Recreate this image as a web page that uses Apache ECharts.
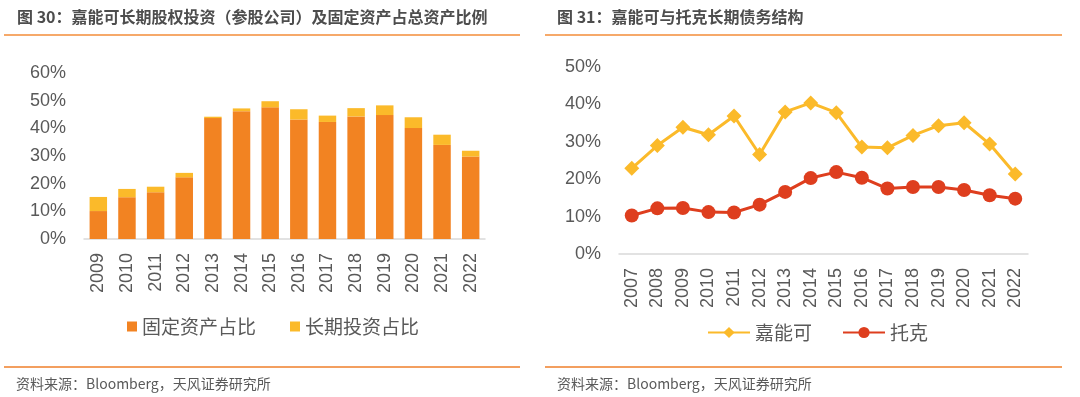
<!DOCTYPE html>
<html>
<head>
<meta charset="utf-8">
<script src="https://cdn.jsdelivr.net/npm/echarts@6/dist/echarts.min.js"></script>
<style>
  html, body { margin: 0; padding: 0; background: #fff; }
  #chart { width: 1080px; height: 397px; }
</style>
</head>
<body>
<div id="chart"></div>
<script>
// 图 30：固定资产 / 长期投资 占总资产比例（%）
const yearsL = ['2009','2010','2011','2012','2013','2014','2015','2016','2017','2018','2019','2020','2021','2022'];
const fixedShare = [10.1, 15.1, 16.9, 22.3, 43.7, 46.2, 47.6, 43.2, 42.3, 44.3, 44.8, 40.1, 34.0, 29.8];
const investShare = [5.1, 3.0, 2.0, 1.6, 0.5, 1.0, 2.2, 3.7, 2.3, 3.0, 3.5, 3.9, 3.7, 2.1];

// 图 31：长期债务结构（%）
const yearsR = ['2007','2008','2009','2010','2011','2012','2013','2014','2015','2016','2017','2018','2019','2020','2021','2022'];
const glencore = [22.9, 29.0, 33.9, 31.9, 36.9, 26.6, 38.0, 40.4, 37.8, 28.6, 28.4, 31.7, 34.3, 35.1, 29.4, 21.4];
const trafigura = [10.3, 12.2, 12.3, 11.2, 11.1, 13.2, 16.6, 20.3, 21.9, 20.4, 17.5, 17.9, 17.9, 17.1, 15.7, 14.8];

const FONT = '"Liberation Sans", Arial, "Noto Sans CJK SC", sans-serif';
const CJK = '"Noto Sans CJK SC", "Liberation Sans", sans-serif';
const TEXT = '#595959';
const AXIS = '#d9d9d9';
const ORANGE = '#f28322';
const YELLOW = '#fbba2a';
const RED = '#de3e1e';
const RULE_TOP = '#f6a96a';
const RULE_BOT = '#ef7f2a';

const chart = echarts.init(document.getElementById('chart'), null, { renderer: 'canvas' });

const pct = (v) => v + '%';

function valAxis(gi, max) {
  return {
    type: 'value', gridIndex: gi, min: 0, max: max, interval: 10,
    axisLine: { show: false }, axisTick: { show: false },
    splitLine: { show: false },
    axisLabel: { color: TEXT, fontFamily: FONT, fontSize: 18, margin: 18, formatter: pct },
  };
}
function catAxis(gi, data) {
  return {
    type: 'category', gridIndex: gi, data: data,
    axisLine: { lineStyle: { color: AXIS, width: 1.5 } },
    axisTick: { show: false },
    axisLabel: { color: TEXT, fontFamily: FONT, fontSize: 18, rotate: 90, margin: 14, interval: 0 },
  };
}

function rule(x1, x2, y, color, w) {
  return { type: 'line', shape: { x1: x1, y1: y, x2: x2, y2: y }, style: { stroke: color, lineWidth: w } };
}
function label(x, y, text, size, bold) {
  return { type: 'text', x: x, y: y, style: { text: text, fill: bold ? '#4d4d4d' : TEXT,
    font: (bold ? 'bold ' : '') + size + 'px ' + CJK, textVerticalAlign: 'middle' } };
}

chart.setOption({
  animation: false,
  backgroundColor: '#fff',
  graphic: [
    label(17, 17, '图 30：嘉能可长期股权投资（参股公司）及固定资产占总资产比例', 16, true),
    label(557, 17, '图 31：嘉能可与托克长期债务结构', 16, true),
    rule(4, 520, 35, RULE_TOP, 2),
    rule(545, 1062, 35, RULE_TOP, 2),
    rule(4, 520, 367, RULE_BOT, 1.5),
    rule(545, 1062, 367, RULE_BOT, 1.5),
    label(16, 384, '资料来源：Bloomberg，天风证券研究所', 14, false),
    label(557, 384, '资料来源：Bloomberg，天风证券研究所', 14, false),
  ],
  grid: [
    { left: 84, right: 595, top: 73, bottom: 158 },
    { left: 619, right: 52, top: 67, bottom: 143 },
  ],
  legend: [
    { data: ['固定资产占比', '长期投资占比'], left: 122, top: 312, icon: 'rect',
      itemWidth: 10, itemHeight: 10, itemGap: 34,
      textStyle: { color: TEXT, fontFamily: CJK, fontSize: 19 } },
    { data: ['嘉能可', '托克'], left: 702, top: 318,
      itemWidth: 42, itemHeight: 14, itemGap: 30,
      textStyle: { color: TEXT, fontFamily: CJK, fontSize: 19 } },
  ],
  xAxis: [catAxis(0, yearsL), catAxis(1, yearsR)],
  yAxis: [valAxis(0, 60), valAxis(1, 50)],
  series: [
    { name: '固定资产占比', type: 'bar', stack: 'a', xAxisIndex: 0, yAxisIndex: 0,
      data: fixedShare, barWidth: '61%', itemStyle: { color: ORANGE } },
    { name: '长期投资占比', type: 'bar', stack: 'a', xAxisIndex: 0, yAxisIndex: 0,
      data: investShare, barWidth: '61%', itemStyle: { color: YELLOW } },
    { name: '嘉能可', type: 'line', xAxisIndex: 1, yAxisIndex: 1, data: glencore,
      symbol: 'diamond', symbolSize: 15,
      lineStyle: { color: YELLOW, width: 3 }, itemStyle: { color: YELLOW } },
    { name: '托克', type: 'line', xAxisIndex: 1, yAxisIndex: 1, data: trafigura,
      symbol: 'circle', symbolSize: 14,
      lineStyle: { color: RED, width: 3 }, itemStyle: { color: RED } },
  ],
});
</script>
</body>
</html>
